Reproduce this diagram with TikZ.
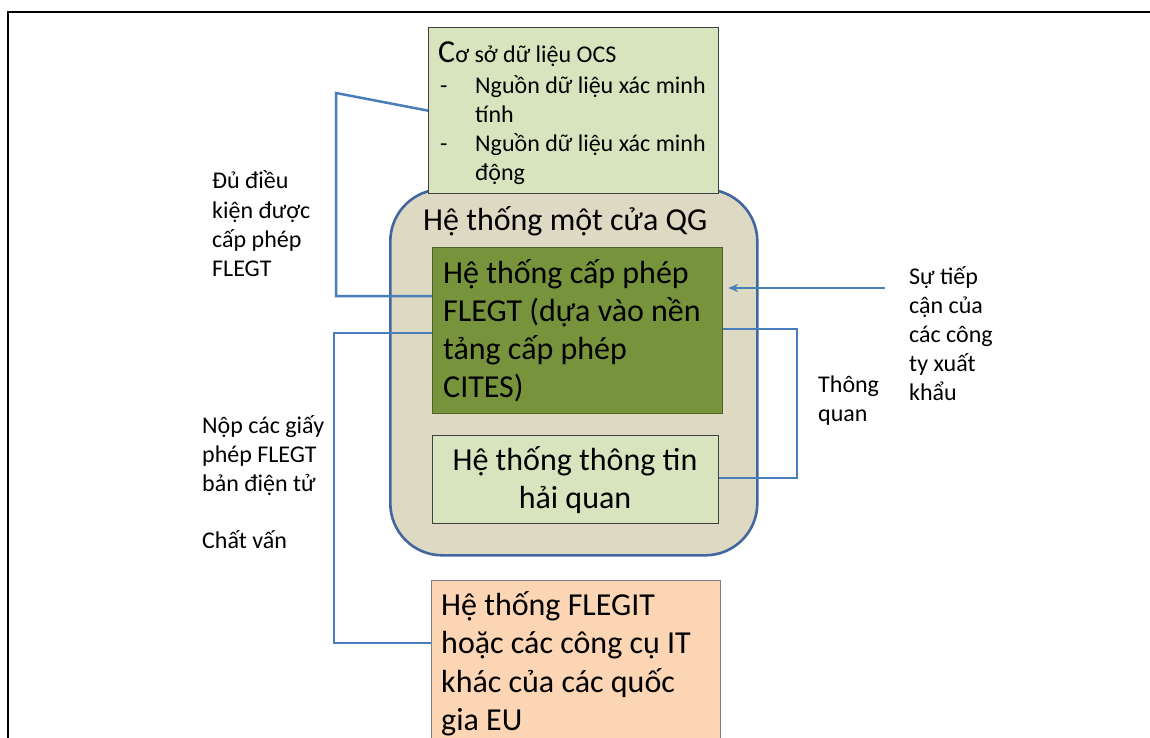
\documentclass[tikz,border=0pt]{standalone}
\usepackage{fontspec}
\setmainfont{Carlito}
\usetikzlibrary{arrows.meta}
\definecolor{ocsfill}{HTML}{D7E4BD}
\definecolor{boxline}{HTML}{404040}
\definecolor{qgfill}{HTML}{DDD9C3}
\definecolor{qgline}{HTML}{41679E}
\definecolor{flegtfill}{HTML}{77933C}
\definecolor{flegtline}{HTML}{4F6228}
\definecolor{eufill}{HTML}{FCD5B5}
\definecolor{euline}{HTML}{7F7F7F}
\definecolor{connblue}{HTML}{4A7EBB}
\begin{document}
\begin{tikzpicture}[x=1pt,y=-1pt,
  lbl/.style={font=\fontsize{24}{29}\selectfont, inner sep=0pt, anchor=base west},
  biglbl/.style={font=\fontsize{32}{38}\selectfont, inner sep=0pt, anchor=base west},
  plainbox/.style={draw=boxline, line width=1.3pt, anchor=north west, inner sep=0pt},
  conn/.style={draw=connblue, line width=2.5pt},
  frame/.style={draw=black, line width=2.2pt}]
\useasboundingbox (0,0) rectangle (1150,738);
% frame
\coordinate (f0) at (8,738);
\coordinate (f1) at (8,12);
\coordinate (f2) at (1150,12);
\draw[frame] (f0) -- (f1) -- (f2);
% boxes
\node[draw=qgline, line width=2.6pt, fill=qgfill, rounded corners=52pt, anchor=north west,
      minimum width=367pt, minimum height=366pt, inner sep=0pt] (qg) at (389,188) {};
\node[plainbox, fill=ocsfill, minimum width=290pt, minimum height=166pt] (ocs) at (428,27) {};
\node[plainbox, draw=flegtline, fill=flegtfill, minimum width=290pt, minimum height=166pt] (flegt) at (432,247) {};
\node[plainbox, fill=ocsfill, minimum width=286pt, minimum height=88pt] (hq) at (432,435) {};
\node[plainbox, draw=euline, fill=eufill, minimum width=289pt, minimum height=200pt] (eu) at (431,580) {};
% texts in OCS box
\node[lbl] (ocs0) at (438,63) {{\fontsize{32}{32}\selectfont C}ơ sở dữ liệu OCS};
\node[lbl] (ocsd1) at (440,94) {-};
\node[lbl] (ocsd2) at (440,152) {-};
\foreach \t [count=\i] in {Nguồn dữ liệu xác minh, tính, Nguồn dữ liệu xác minh, động}
  \node[lbl] (ocs\i) at (475,{94+29*(\i-1)}) {\t};
% title
\node[biglbl] (qgt) at (423,230) {Hệ thống một cửa QG};
% FLEGT box text
\foreach \t [count=\i] in {Hệ thống cấp phép, FLEGT (dựa vào nền, tảng cấp phép, CITES)}
  \node[biglbl] (fl\i) at (443,{283+38*(\i-1)}) {\t};
% customs text
\node[biglbl, anchor=base] (hq1) at (575,470) {Hệ thống thông tin};
\node[biglbl, anchor=base] (hq2) at (575,508) {hải quan};
% EU box text
\foreach \t [count=\i] in {Hệ thống FLEGIT, hoặc các công cụ IT, khác của các quốc, gia EU}
  \node[biglbl] (eu\i) at (441,{615+38.5*(\i-1)}) {\t};
% side labels
\foreach \t [count=\i] in {Đủ điều, kiện được, cấp phép, FLEGT}
  \node[lbl] (dd\i) at (212,{189+29*(\i-1)}) {\t};
\foreach \t [count=\i] in {Nộp các giấy, phép FLEGT, bản điện tử}
  \node[lbl] (np\i) at (202,{433+29*(\i-1)}) {\t};
\node[lbl] (cv) at (202,548) {Chất vấn};
\node[lbl] (tq1) at (818,392) {Thông};
\node[lbl] (tq2) at (818,421) {quan};
\foreach \t [count=\i] in {Sự tiếp, cận của, các công, ty xuất, khẩu}
  \node[lbl] (st\i) at (909,{284+29*(\i-1)}) {\t};
% connectors
\coordinate (k1) at (336,93);
\coordinate (k2) at (336,296);
\draw[conn] (ocs.west) -- (k1) -- (k2) -- (flegt.west |- k2);
\coordinate (k3) at (334,333);
\coordinate (k4) at (334,643);
\draw[conn] (flegt.west |- k3) -- (k3) -- (k4) -- (eu.west |- k4);
\coordinate (a0) at (885,288);
\draw[conn, -{Stealth[length=10pt,width=8pt]}, shorten >=5pt] (a0) -- (flegt.east |- a0);
\coordinate (k5) at (797,329);
\coordinate (k6) at (797,478);
\draw[conn] (flegt.east |- k5) -- (k5) -- (k6) -- (hq.east |- k6);
\end{tikzpicture}
\end{document}
